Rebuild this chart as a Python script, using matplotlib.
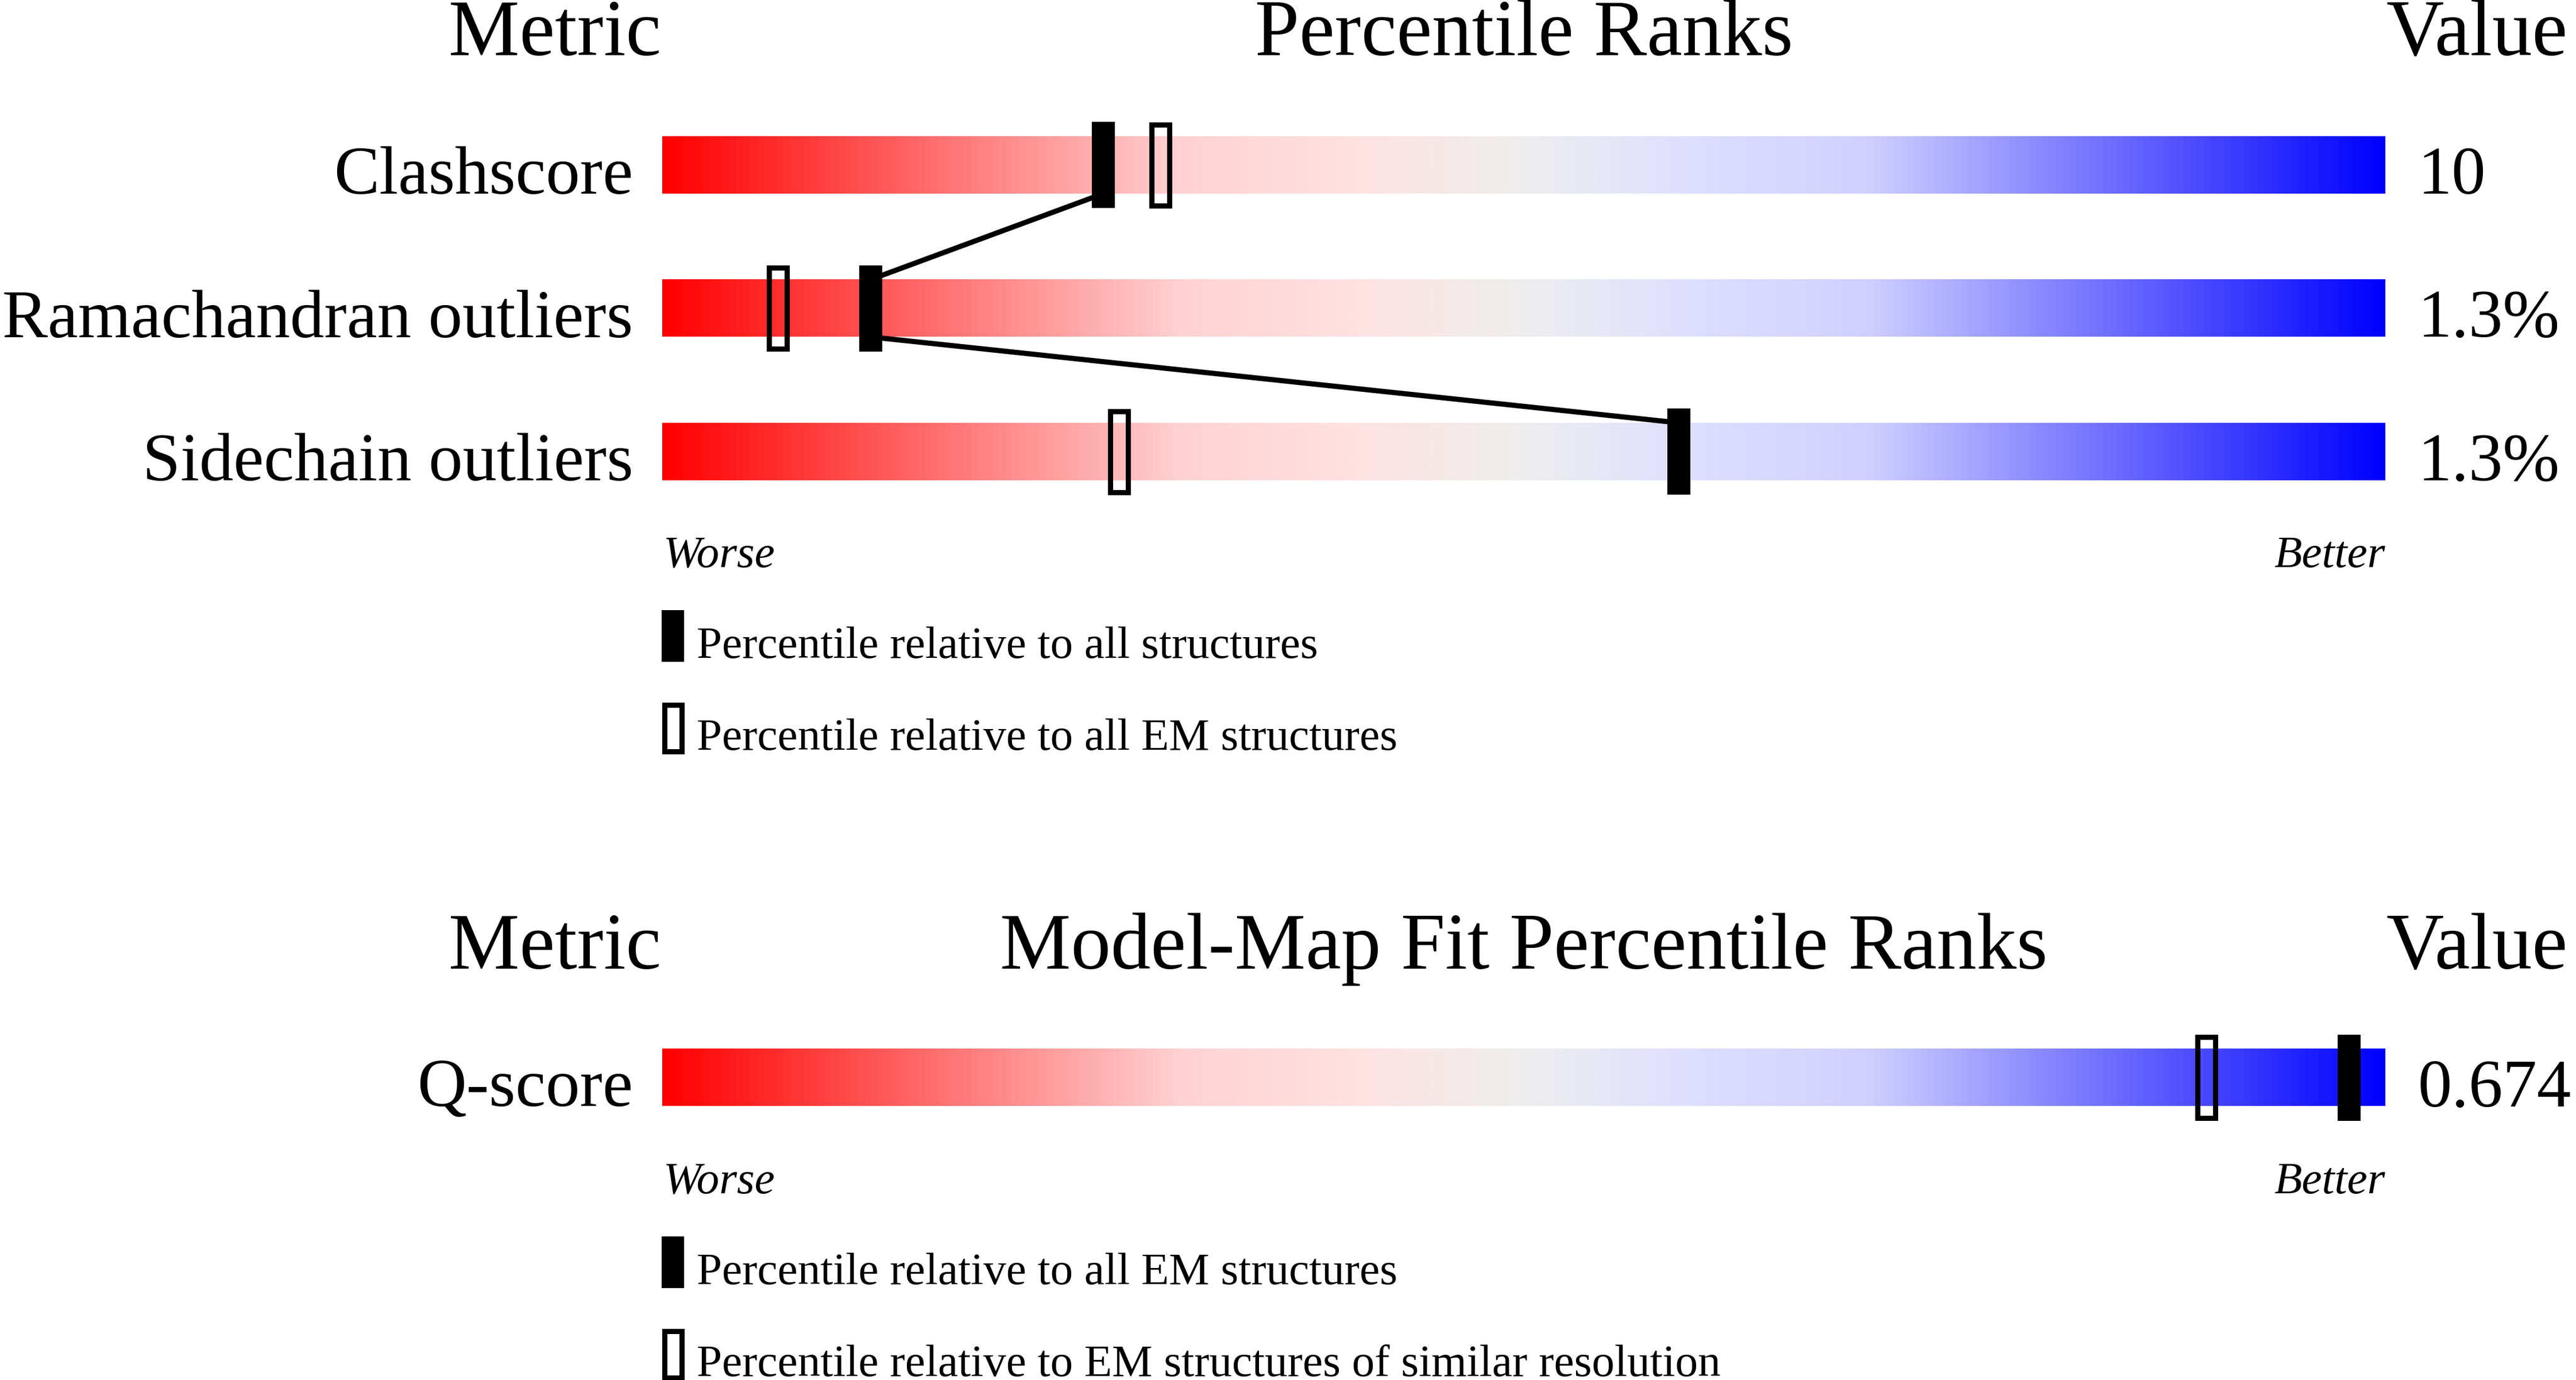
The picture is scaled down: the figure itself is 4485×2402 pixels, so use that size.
import numpy as np
import matplotlib
matplotlib.use("Agg")
import matplotlib.pyplot as plt
from matplotlib.colors import LinearSegmentedColormap
from matplotlib.patches import Rectangle
import matplotlib.transforms as mtransforms

plt.rcParams['font.family'] = ['Liberation Serif', 'DejaVu Serif']

# ---------------- data ----------------
metrics = ["Clashscore", "Ramachandran outliers", "Sidechain outliers"]
pct_all = [25.6, 12.1, 59.0]          # percentile relative to all structures
pct_em = [28.9, 6.7, 26.5]            # percentile relative to all EM structures
values = ["10", "1.3%", "1.3%"]

fit_metrics = ["Q-score"]
fit_pct_all_em = [97.9]               # relative to all EM structures
fit_pct_similar = [89.6]              # relative to EM structures of similar resolution
fit_values = ["0.674"]

legend1 = ["Percentile relative to all structures",
           "Percentile relative to all EM structures"]
legend2 = ["Percentile relative to all EM structures",
           "Percentile relative to EM structures of similar resolution"]

# ---------------- layout ----------------
W, H = 4485, 2402
DPI = 100
fig = plt.figure(figsize=(W / DPI, H / DPI), dpi=DPI)
fig.patch.set_facecolor("white")


def fx(px):
    return px / W


def fy(py):
    return 1 - py / H


BAR_L, BAR_R = 1153, 4153
ROW = 249.5                      # px per category row
XPX = (BAR_R - BAR_L) / 100.0    # px per percentile unit
BH = 100 / ROW                   # bar height (data units)
MH = 150 / ROW                   # marker height
MW = 40 / XPX                    # marker width
LWPX = 9
LW = LWPX * 72 / DPI

HEAD_FS = 100
LABEL_FS = 85.5
SMALL_FS = 57

cmap = LinearSegmentedColormap.from_list("pr", [
    (0.0, (1, 0, 0)),
    (0.3, (1, 210 / 255, 210 / 255)),
    (0.4, (1, 225 / 255, 225 / 255)),
    (0.5, (238 / 255, 238 / 255, 238 / 255)),
    (0.6, (222 / 255, 222 / 255, 1)),
    (0.7, (208 / 255, 208 / 255, 1)),
    (1.0, (0, 0, 1)),
])


def make_axes(center_first, n):
    top = center_first - ROW / 2
    bottom = center_first + (n - 1) * ROW + ROW / 2
    ax = fig.add_axes([fx(BAR_L), fy(bottom), (BAR_R - BAR_L) / W, (bottom - top) / H])
    return ax


def draw_panel(ax, names, filled, hollow, vals, connect):
    n = len(names)
    grad = np.linspace(0, 1, 1024).reshape(1, -1)
    for i in range(n):
        ax.imshow(grad, cmap=cmap, aspect="auto", interpolation="bilinear",
                  extent=[0, 100, i + BH / 2, i - BH / 2], zorder=1)
    if connect:
        for i in range(n - 1):
            ax.plot([filled[i], filled[i + 1]], [i + BH / 2, i + 1 - BH / 2],
                    color="black", lw=LW, zorder=2, solid_capstyle="butt")
    lwu = LWPX / XPX
    lwv = LWPX / ROW
    for i in range(n):
        ax.add_patch(Rectangle((filled[i] - MW / 2, i - MH / 2), MW, MH,
                               facecolor="black", edgecolor="none", zorder=3))
        ax.add_patch(Rectangle((hollow[i] - (MW - lwu) / 2, i - (MH - lwv) / 2),
                               MW - lwu, MH - lwv, facecolor="none",
                               edgecolor="black", lw=LW, zorder=3))
    ax.set_xlim(0, 100)
    ax.set_ylim(n - 0.5, -0.5)
    ax.axis("off")

    ytr = ax.get_yaxis_transform()
    tl = ytr + mtransforms.ScaledTranslation(-51 / DPI, 0, fig.dpi_scale_trans)
    tv = ytr + mtransforms.ScaledTranslation(57 / DPI, 0, fig.dpi_scale_trans)
    for i in range(n):
        ax.text(0, i + BH / 2, names[i], ha="right", va="baseline",
                fontsize=LABEL_FS, transform=tl)
        ax.text(1, i + BH / 2, vals[i], ha="left", va="baseline",
                fontsize=LABEL_FS, transform=tv)


def headers(baseline, title):
    fig.text(fx(1151), fy(baseline), "Metric", ha="right", va="baseline", fontsize=HEAD_FS)
    fig.text(fx((BAR_L + BAR_R) / 2), fy(baseline), title, ha="center", va="baseline",
             fontsize=HEAD_FS)
    fig.text(fx(4155), fy(baseline), "Value", ha="left", va="baseline", fontsize=HEAD_FS)


def worse_better(baseline):
    fig.text(fx(1155), fy(baseline), "Worse", ha="left", va="baseline",
             fontsize=SMALL_FS, fontstyle="italic")
    fig.text(fx(BAR_R), fy(baseline), "Better", ha="right", va="baseline",
             fontsize=SMALL_FS, fontstyle="italic")


def legend(top1, labels):
    # filled symbol
    fig.add_artist(Rectangle((fx(1152), fy(top1 + 90)), 39 / W, 90 / H,
                             transform=fig.transFigure, facecolor="black",
                             edgecolor="none"))
    fig.text(fx(1213), fy(top1 + 83), labels[0], ha="left", va="baseline",
             fontsize=SMALL_FS)
    top2 = top1 + 160
    fig.add_artist(Rectangle((fx(1152 + LWPX / 2), fy(top2 + 90 - LWPX / 2)),
                             (39 - LWPX) / W, (90 - LWPX) / H,
                             transform=fig.transFigure, facecolor="none",
                             edgecolor="black", lw=LW))
    fig.text(fx(1213), fy(top2 + 83), labels[1], ha="left", va="baseline",
             fontsize=SMALL_FS)


# panel 1
ax1 = make_axes(287, len(metrics))
draw_panel(ax1, metrics, pct_all, pct_em, values, connect=True)
headers(96, "Percentile Ranks")
worse_better(987)
legend(1062, legend1)

# panel 2
ax2 = make_axes(1875.5, len(fit_metrics))
draw_panel(ax2, fit_metrics, fit_pct_all_em, fit_pct_similar, fit_values, connect=False)
headers(1686, "Model-Map Fit Percentile Ranks")
worse_better(2077)
legend(2152, legend2)

fig.savefig("out.png", dpi=DPI, facecolor="white")
